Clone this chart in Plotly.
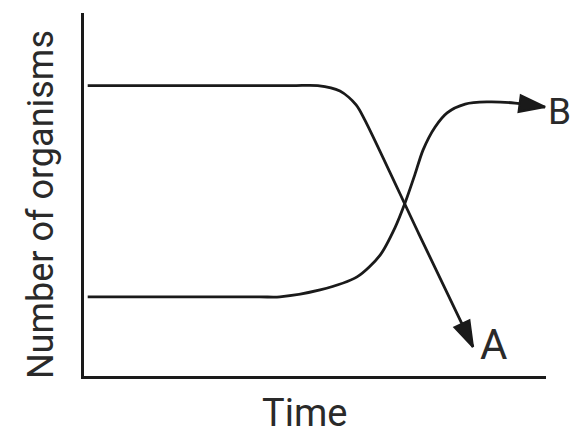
import plotly.graph_objects as go

# Curve A (declining population)
time_a = [0.08, 4.5, 5.06, 5.54, 5.89, 6.08, 7.25, 8.42]
num_a = [8.0, 8.0, 8.0, 7.85, 7.47, 7.05, 3.91, 0.80]

# Curve B (increasing population)
time_b = [0.08, 3.8, 4.24, 5.11, 5.91, 6.41, 6.73, 6.95, 7.16, 7.34, 7.60, 7.86, 8.25, 8.72, 9.33, 9.98]
num_b = [2.18, 2.18, 2.18, 2.37, 2.73, 3.33, 4.08, 4.77, 5.54, 6.23, 6.86, 7.25, 7.49, 7.55, 7.52, 7.41]

labels = ["A", "B"]
x_title = "Time"
y_title = "Number of organisms"

LINE = "#1a1a1a"
TXT = "#2a2a2a"
FONT = "Roboto, Liberation Sans, sans-serif"

fig = go.Figure()
for tx, ny in [(time_a, num_a), (time_b, num_b)]:
    fig.add_trace(go.Scatter(x=tx, y=ny, mode="lines",
                             line=dict(color=LINE, width=2.8, shape="spline", smoothing=0.8),
                             cliponaxis=False, showlegend=False, hoverinfo="skip"))
    fig.add_trace(go.Scatter(x=tx[-2:], y=ny[-2:], mode="markers",
                             marker=dict(symbol="arrow", angleref="previous", size=[0, 27],
                                         color=LINE, opacity=1,
                                         line=dict(width=2, color=LINE)),
                             cliponaxis=False, showlegend=False, hoverinfo="skip"))

def ann(x, y, text, size, angle=0, xanchor="center"):
    fig.add_annotation(x=x, y=y, xref="paper", yref="paper", text=text, showarrow=False,
                       textangle=angle, font=dict(family=FONT, size=size, color=TXT),
                       xanchor=xanchor, yanchor="middle")

ann(0.887, 0.088, labels[0], 42)
ann(1.0, 0.73, labels[1], 37, xanchor="left")
ann(0.478, -0.103, x_title, 38)
ann(-0.093, 0.471, y_title, 36, -90)

fig.update_xaxes(range=[0, 10], showline=True, linecolor=LINE, linewidth=3,
                 showgrid=False, zeroline=False, showticklabels=False, ticks="", fixedrange=True)
fig.update_yaxes(range=[0, 10], showline=True, linecolor=LINE, linewidth=3,
                 showgrid=False, zeroline=False, showticklabels=False, ticks="", fixedrange=True)
fig.update_layout(width=570, height=436, margin=dict(l=84, r=24, t=13, b=60),
                  paper_bgcolor="white", plot_bgcolor="white")
fig.write_html("out.html", config={"displayModeBar": False},
               post_script="document.body.style.margin='0';document.body.style.overflow='hidden';")
